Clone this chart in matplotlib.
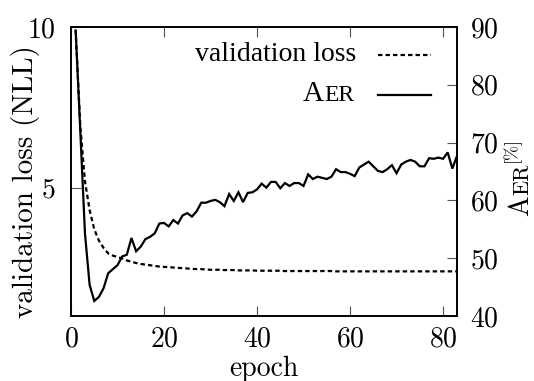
import matplotlib
matplotlib.use("Agg")
import matplotlib.pyplot as plt
from matplotlib.lines import Line2D
from matplotlib.offsetbox import TextArea, DrawingArea, HPacker, VPacker, AnchoredOffsetbox

# ---------------- data ----------------
epochs = list(range(1, 84))
val_loss = [9.9, 6.9, 5.2, 4.3, 3.7, 3.35, 3.12, 2.95, 2.88, 2.84,
            2.79, 2.73, 2.69, 2.65, 2.62, 2.60, 2.58, 2.56, 2.54, 2.53,
            2.52, 2.51, 2.50, 2.49, 2.48, 2.47, 2.46, 2.46, 2.45, 2.44,
            2.44, 2.44, 2.43, 2.43, 2.43, 2.42, 2.42, 2.42, 2.42, 2.41,
            2.41, 2.41, 2.41, 2.41, 2.41, 2.40, 2.40, 2.40, 2.40, 2.40,
            2.40, 2.40, 2.40, 2.40, 2.40, 2.40, 2.39, 2.39, 2.39, 2.39,
            2.39, 2.39, 2.39, 2.39, 2.39, 2.39, 2.39, 2.39, 2.39, 2.39,
            2.39, 2.39, 2.39, 2.39, 2.39, 2.39, 2.39, 2.39, 2.39, 2.39,
            2.39, 2.39, 2.39]
aer = [89.4, 72.0, 54.3, 45.4, 42.6, 43.3, 44.8, 47.4, 48.1, 48.8,
       50.3, 50.6, 53.5, 51.2, 52.0, 53.3, 53.7, 54.3, 56.0, 56.1,
       55.5, 56.6, 56.0, 57.4, 57.8, 57.2, 58.1, 59.6, 59.6, 59.9,
       60.1, 59.7, 59.0, 61.1, 59.9, 61.4, 59.7, 61.3, 61.4, 61.9,
       62.9, 62.2, 63.2, 63.2, 62.1, 63.0, 62.5, 63.0, 63.0, 62.5,
       64.5, 63.7, 64.1, 63.9, 63.7, 64.1, 65.4, 64.9, 64.9, 64.6,
       64.2, 65.7, 66.2, 66.7, 65.9, 65.1, 64.9, 65.4, 66.1, 64.7,
       66.2, 66.7, 67.0, 66.7, 65.9, 65.9, 67.3, 67.2, 67.4, 67.2,
       68.3, 65.5, 67.7]
x_ticks = [0, 20, 40, 60, 80]
left_ticks = [5, 10]
right_ticks = [40, 50, 60, 70, 80, 90]

TICKFONT = 'cmr10'
LEGFONT = 'Liberation Serif'
plt.rcParams['axes.formatter.use_mathtext'] = True
plt.rcParams['lines.scale_dashes'] = False

W, H = 534, 381
fig = plt.figure(figsize=(W / 100, H / 100), dpi=100)
ax = fig.add_axes([71 / W, 1 - 316 / H, (457 - 71) / W, (316 - 27) / H])
ax2 = ax.twinx()

lw = 1.6
dash = (0, (3.2, 2.2))
ax.plot(epochs, val_loss, color='black', lw=lw, linestyle=dash)
ax2.plot(epochs, aer, color='black', lw=lw, solid_joinstyle='miter')

ax.set_xlim(0, 83)
ax.set_ylim(1, 10)
ax2.set_ylim(40, 90)
ax.set_xticks(x_ticks)
ax.set_yticks(left_ticks)
ax2.set_yticks(right_ticks)

for a in (ax, ax2):
    for s in a.spines.values():
        s.set_linewidth(1.2)
ax.tick_params(axis='x', direction='in', top=True, length=7, width=0.8,
               color='#555555', pad=7, labelsize=20)
ax.tick_params(axis='y', direction='in', right=False, length=7, width=0.8,
               color='#555555', pad=11, labelsize=20)
ax2.tick_params(axis='y', direction='in', length=7, width=0.8,
                color='#555555', pad=9, labelsize=20)
for lab in ax.get_xticklabels() + ax.get_yticklabels() + ax2.get_yticklabels():
    lab.set_fontfamily(TICKFONT)

# axis labels
fig.text(26 / W, 1 - 182 / H, 'validation loss (NLL)', rotation=90,
         ha='center', va='center', fontsize=21, family=TICKFONT)
fig.text(264 / W, 1 - 369 / H, 'epoch', ha='center', va='center',
         fontsize=20, family=TICKFONT)

# legend built from offset boxes
legsize = 20
def sample(style):
    da = DrawingArea(38, 10, 0, 0)
    da.add_artist(Line2D([0, 38], [4.5, 4.5], color='black', lw=lw, linestyle=style))
    return da

row1 = HPacker(children=[TextArea('validation loss', textprops=dict(fontsize=legsize, family=LEGFONT)),
                         sample(dash)], align='baseline', pad=0, sep=16)
row2 = HPacker(children=[HPacker(children=[TextArea('A', textprops=dict(fontsize=21, family=LEGFONT)),
                                           TextArea('ER', textprops=dict(fontsize=17, family=LEGFONT))],
                                 align='baseline', pad=0, sep=0.5),
                         sample('-')], align='baseline', pad=0, sep=17)
box = VPacker(children=[row1, row2], align='right', pad=0, sep=10)
anch = AnchoredOffsetbox(loc='upper right', child=box, pad=0, borderpad=0, frameon=False,
                         bbox_to_anchor=(431 / W, 1 - 42 / H), bbox_transform=fig.transFigure)
ax2.add_artist(anch)

# right y label: AER (small caps) with [%] superscript
fig.canvas.draw()
r = fig.canvas.get_renderer()
bx = 528
y0 = 216
tA = fig.text(bx / W, 1 - y0 / H, 'A', rotation=90, rotation_mode='anchor',
              ha='left', va='baseline', fontsize=20, family=TICKFONT)
hA = tA.get_window_extent(r).height
tE = fig.text(bx / W, 1 - (y0 - hA) / H, 'ER', rotation=90, rotation_mode='anchor',
              ha='left', va='baseline', fontsize=16, family=TICKFONT)
hE = tE.get_window_extent(r).height
fig.text((bx - 12) / W, 1 - (y0 - hA - hE - 2) / H, '[%]', rotation=90, rotation_mode='anchor',
         ha='left', va='baseline', fontsize=13, family=TICKFONT)

fig.savefig('out.png', dpi=100)
